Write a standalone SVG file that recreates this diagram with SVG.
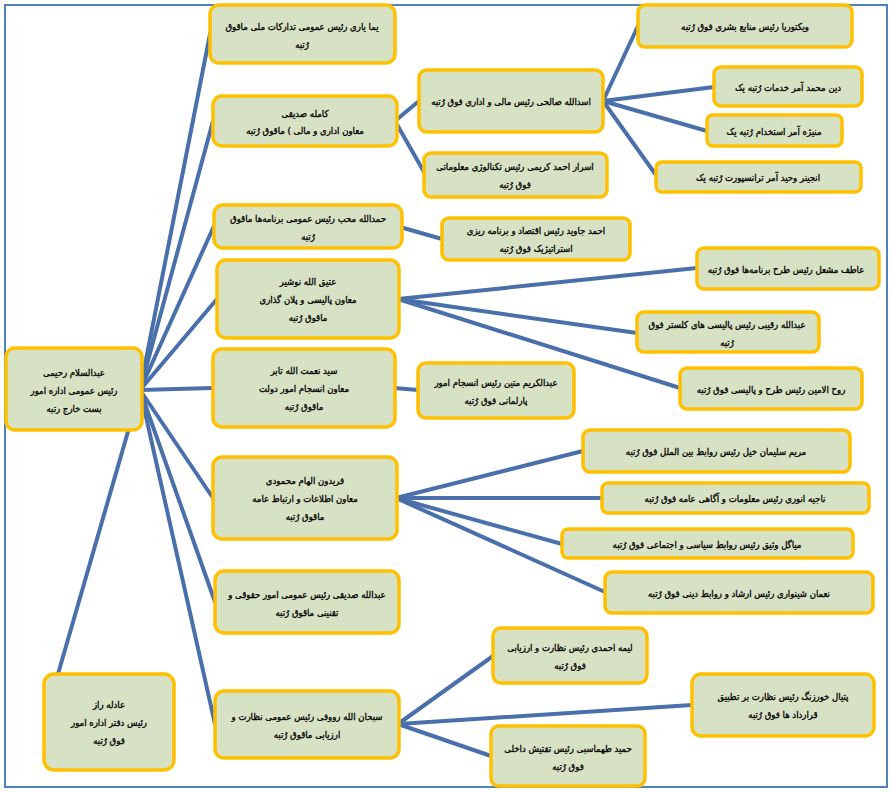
<svg xmlns="http://www.w3.org/2000/svg" width="891" height="792" viewBox="0 0 891 792">
<style>
.bg{fill:#ffffff}
.frame{fill:none;stroke:#4F81BD;stroke-width:2}
.box{fill:#D7E1C3;stroke:#FFC000;stroke-width:3.5}
.c{fill:none;stroke:#4A70AC;stroke-width:4;stroke-linecap:round}
.t{font-family:"DejaVu Sans Condensed","DejaVu Sans",sans-serif;font-stretch:condensed;font-size:9.5px;fill:#000;stroke:#000;stroke-width:0.3;text-anchor:middle;direction:rtl}
</style>
<rect class="bg" x="0" y="0" width="891" height="792"/>
<rect class="frame" x="5" y="5" width="882" height="782"/>
<g id="connectors">
<line class="c" x1="140" y1="390" x2="210" y2="34"/>
<line class="c" x1="140" y1="390" x2="213" y2="121"/>
<line class="c" x1="140" y1="390" x2="214" y2="226"/>
<line class="c" x1="140" y1="390" x2="217" y2="299"/>
<line class="c" x1="140" y1="390" x2="213" y2="388"/>
<line class="c" x1="140" y1="390" x2="213" y2="498"/>
<line class="c" x1="140" y1="390" x2="215" y2="602"/>
<line class="c" x1="140" y1="390" x2="215" y2="724"/>
<line class="c" x1="140" y1="390" x2="58" y2="674"/>
<line class="c" x1="395" y1="121" x2="419" y2="101"/>
<line class="c" x1="395" y1="121" x2="424" y2="172"/>
<line class="c" x1="603" y1="101" x2="638" y2="26"/>
<line class="c" x1="603" y1="101" x2="714" y2="87"/>
<line class="c" x1="603" y1="101" x2="707" y2="131"/>
<line class="c" x1="603" y1="101" x2="656" y2="175"/>
<line class="c" x1="400" y1="227" x2="442" y2="239"/>
<line class="c" x1="398" y1="299" x2="697" y2="268"/>
<line class="c" x1="398" y1="299" x2="637" y2="333"/>
<line class="c" x1="398" y1="299" x2="680" y2="388"/>
<line class="c" x1="394" y1="388" x2="418" y2="390"/>
<line class="c" x1="396" y1="498" x2="583" y2="451"/>
<line class="c" x1="396" y1="498" x2="602" y2="498"/>
<line class="c" x1="396" y1="498" x2="562" y2="544"/>
<line class="c" x1="396" y1="498" x2="605" y2="592"/>
<line class="c" x1="398" y1="724" x2="493" y2="656"/>
<line class="c" x1="398" y1="724" x2="692" y2="705"/>
<line class="c" x1="398" y1="724" x2="491" y2="756"/>
</g>
<g id="root">
<rect class="box" x="6" y="348" width="136" height="82" rx="9"/>
<text class="t" x="74" y="376">عبدالسلام رحیمی</text>
<text class="t" x="74" y="394">رئیس عمومی اداره امور</text>
<text class="t" x="74" y="412">بست خارج رتبه</text>
</g>
<g id="n1">
<rect class="box" x="210" y="5" width="185" height="58" rx="9"/>
<text class="t" x="302" y="30">یما یاری رئیس عمومی تدارکات ملی  ماقوق</text>
<text class="t" x="302" y="48">رُتبه</text>
</g>
<g id="n2">
<rect class="box" x="213" y="96" width="184" height="50" rx="9"/>
<text class="t" x="305" y="117">کامله صدیقی</text>
<text class="t" x="305" y="134">معاون اداری و مالی ) ماقوق رُتبه</text>
</g>
<g id="n3">
<rect class="box" x="214" y="205" width="188" height="43" rx="9"/>
<text class="t" x="308" y="222">حمدالله محب رئیس عمومی برنامه‌ها ماقوق</text>
<text class="t" x="308" y="240">رُتبه</text>
</g>
<g id="n4">
<rect class="box" x="217" y="260" width="182" height="78" rx="9"/>
<text class="t" x="308" y="285">عتیق الله نوشیر</text>
<text class="t" x="308" y="303">معاون پالیسی و پلان گذاری</text>
<text class="t" x="308" y="321">ماقوق رُتبه</text>
</g>
<g id="n5">
<rect class="box" x="213" y="349" width="182" height="78" rx="9"/>
<text class="t" x="304" y="374">سید نعمت الله تابر</text>
<text class="t" x="304" y="392">معاون انسجام امور دولت</text>
<text class="t" x="304" y="410">ماقوق رُتبه</text>
</g>
<g id="n6">
<rect class="box" x="213" y="457" width="184" height="82" rx="9"/>
<text class="t" x="305" y="484">فریدون الهام محمودی</text>
<text class="t" x="305" y="502">معاون اطلاعات و ارتباط عامه</text>
<text class="t" x="305" y="520">ماقوق رُتبه</text>
</g>
<g id="n7">
<rect class="box" x="215" y="571" width="184" height="62" rx="9"/>
<text class="t" x="307" y="598">عبدالله صدیقی رئیس عمومی امور حقوقی و</text>
<text class="t" x="307" y="616">تقنینی ماقوق رُتبه</text>
</g>
<g id="n8">
<rect class="box" x="215" y="691" width="184" height="67" rx="9"/>
<text class="t" x="307" y="720">سبحان الله رووفی رئیس عمومی نظارت و</text>
<text class="t" x="307" y="738">ارزیابی ماقوق رُتبه</text>
</g>
<g id="n9">
<rect class="box" x="44" y="674" width="130" height="96" rx="10"/>
<text class="t" x="109" y="708">عادله راز</text>
<text class="t" x="109" y="726">رئیس دفتر اداره امور</text>
<text class="t" x="109" y="744">فوق رُتبه</text>
</g>
<g id="asadullah">
<rect class="box" x="419" y="70" width="184" height="62" rx="8"/>
<text class="t" x="511" y="105">اسدالله صالحی رئیس مالی و اداری فوق رُتبه</text>
</g>
<g id="asrar">
<rect class="box" x="424" y="153" width="183" height="44" rx="7"/>
<text class="t" x="515" y="170">اسرار احمد کریمی رئیس تکنالوژی معلوماتی</text>
<text class="t" x="515" y="188">فوق رُتبه</text>
</g>
<g id="ahmad">
<rect class="box" x="442" y="218" width="188" height="42" rx="7"/>
<text class="t" x="536" y="234">احمد جاوید رئیس اقتصاد و برنامه ریزی</text>
<text class="t" x="536" y="252">استراتیژیک فوق رُتبه</text>
</g>
<g id="abdulkarim">
<rect class="box" x="418" y="363" width="156" height="55" rx="8"/>
<text class="t" x="496" y="386">عبدالکریم متین رئیس انسجام امور</text>
<text class="t" x="496" y="404">پارلمانی فوق رُتبه</text>
</g>
<g id="victoria">
<rect class="box" x="638" y="5" width="214" height="42" rx="7"/>
<text class="t" x="745" y="30">ویکتوریا رئیس منابع بشری فوق رُتبه</text>
</g>
<g id="dinmohammad">
<rect class="box" x="714" y="67" width="148" height="39" rx="7"/>
<text class="t" x="788" y="91">دین محمد آمر خدمات رُتبه یک</text>
</g>
<g id="manizha">
<rect class="box" x="707" y="115" width="135" height="31" rx="6"/>
<text class="t" x="774" y="135">منیژه آمر استخدام رُتبه یک</text>
</g>
<g id="wahid">
<rect class="box" x="656" y="162" width="205" height="30" rx="6"/>
<text class="t" x="758" y="181">انجینر وحید آمر ترانسپورت رُتبه یک</text>
</g>
<g id="atif">
<rect class="box" x="697" y="248" width="182" height="41" rx="7"/>
<text class="t" x="786" y="273">عاطف مشعل رئیس طرح برنامه‌ها فوق رُتبه</text>
</g>
<g id="raqibi">
<rect class="box" x="637" y="312" width="182" height="40" rx="7"/>
<text class="t" x="727" y="328">عبدالله رقیبی رئیس پالیسی های کلستر فوق</text>
<text class="t" x="727" y="346">رُتبه</text>
</g>
<g id="ruhulamin">
<rect class="box" x="680" y="368" width="182" height="41" rx="7"/>
<text class="t" x="771" y="393">روح الامین رئیس طرح و پالیسی فوق رُتبه</text>
</g>
<g id="maryam">
<rect class="box" x="583" y="430" width="267" height="42" rx="7"/>
<text class="t" x="716" y="455">مریم سلیمان خیل رئیس روابط بین الملل فوق رُتبه</text>
</g>
<g id="najia">
<rect class="box" x="602" y="483" width="267" height="30" rx="6"/>
<text class="t" x="735" y="502">ناجیه انوری رئیس معلومات و آگاهی عامه فوق رُتبه</text>
</g>
<g id="miagul">
<rect class="box" x="562" y="529" width="291" height="29" rx="6"/>
<text class="t" x="707" y="548">میاگل وثیق رئیس روابط سیاسی و اجتماعی فوق رُتبه</text>
</g>
<g id="noman">
<rect class="box" x="605" y="572" width="268" height="41" rx="7"/>
<text class="t" x="739" y="597">نعمان شینواری رئیس ارشاد و روابط دینی فوق رُتبه</text>
</g>
<g id="lima">
<rect class="box" x="493" y="628" width="154" height="55" rx="8"/>
<text class="t" x="570" y="651">لیمه احمدی رئیس نظارت و ارزیابی</text>
<text class="t" x="570" y="669">فوق رُتبه</text>
</g>
<g id="pitial">
<rect class="box" x="692" y="674" width="182" height="62" rx="9"/>
<text class="t" x="783" y="700">پتیال خورزنگ رئیس نظارت بر تطبیق</text>
<text class="t" x="783" y="718">قرارداد ها فوق رُتبه</text>
</g>
<g id="hamid">
<rect class="box" x="491" y="726" width="154" height="60" rx="8"/>
<text class="t" x="568" y="752">حمید طهماسبی رئیس تفتیش داخلی</text>
<text class="t" x="568" y="770">فوق رُتبه</text>
</g>
</svg>
